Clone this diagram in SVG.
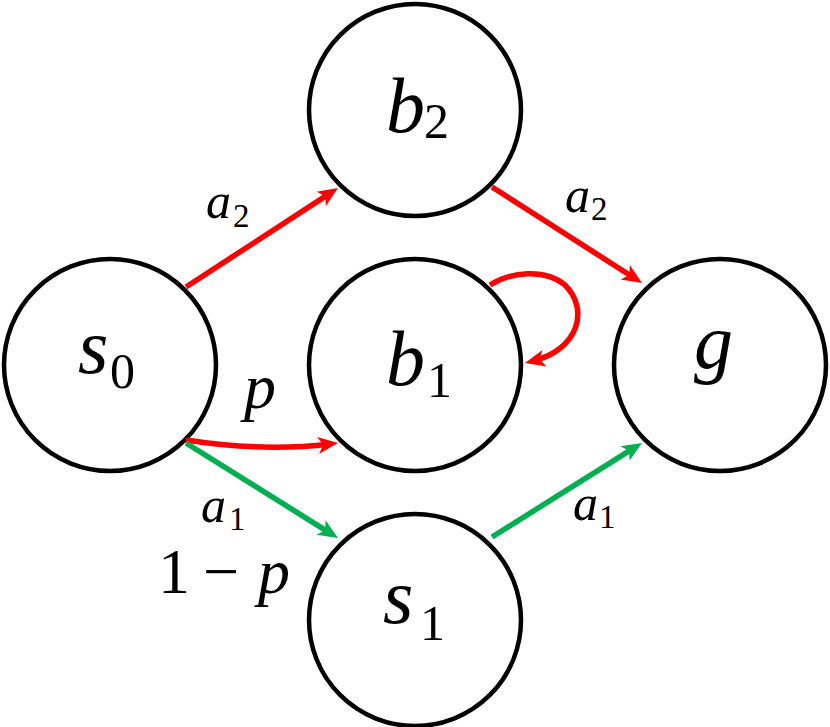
<svg xmlns="http://www.w3.org/2000/svg" width="830" height="727" viewBox="0 0 830 727">
<style>
.node{fill:#fff;stroke:#000;stroke-width:4.5}
.e{fill:none;stroke-width:5.5}
.red{stroke:#ff0000}
.green{stroke:#00b050}
.m{font-style:italic;fill:#000}
.d{font-style:normal;fill:#000}
</style>
<defs>
<marker id="ar" markerUnits="userSpaceOnUse" viewBox="0 -10 22 20" markerWidth="22" markerHeight="20" refX="12" refY="0" orient="auto" overflow="visible">
<path d="M0,-8.5 L20,0 L0,8.5 L5,0 Z" fill="#ff0000"/>
</marker>
<marker id="ag" markerUnits="userSpaceOnUse" viewBox="0 -10 22 20" markerWidth="22" markerHeight="20" refX="12" refY="0" orient="auto" overflow="visible">
<path d="M0,-8.5 L20,0 L0,8.5 L5,0 Z" fill="#00b050"/>
</marker>
</defs>
<g id="nodes" font-family="Liberation Serif, DejaVu Serif, Times New Roman, serif">
<g id="b2"><circle class="node" cx="415" cy="110" r="106"/><text><tspan class="m" x="386" y="132" font-size="78">b</tspan><tspan class="d" x="424" y="138" font-size="50">2</tspan></text></g>
<g id="s0"><circle class="node" cx="110" cy="365" r="106"/><text><tspan class="m" x="78" y="373" font-size="78">s</tspan><tspan class="d" x="110" y="388" font-size="50">0</tspan></text></g>
<g id="b1"><circle class="node" cx="415" cy="365" r="106"/><text><tspan class="m" x="386" y="385" font-size="78">b</tspan><tspan class="d" x="427" y="397" font-size="50">1</tspan></text></g>
<g id="g"><circle class="node" cx="720" cy="365" r="106"/><text><tspan class="m" x="694" y="368" font-size="78">g</tspan></text></g>
<g id="s1"><circle class="node" cx="415" cy="620" r="106"/><text><tspan class="m" x="383" y="623" font-size="78">s</tspan><tspan class="d" x="420" y="640" font-size="50">1</tspan></text></g>
</g>
<g id="connectors">
<path class="e red" d="M186,287 L331.3,192.4" marker-end="url(#ar)"/>
<path class="e red" d="M492,187 L635.3,278.7" marker-end="url(#ar)"/>
<path class="e red" d="M186,440 Q262,452 330.1,443.9" marker-end="url(#ar)"/>
<path class="e red" d="M490,285 C510,272 545,268 565,285 C590,310 578,350 532.8,361" marker-end="url(#ar)"/>
<path class="e green" d="M186,443 L331.2,533.8" marker-end="url(#ag)"/>
<path class="e green" d="M492,537 L635.2,447.2" marker-end="url(#ag)"/>
</g>
<g id="labels" font-family="Liberation Serif, DejaVu Serif, Times New Roman, serif">
<text><tspan class="m" x="206" y="218" font-size="50">a</tspan><tspan class="d" x="233" y="227" font-size="33">2</tspan></text>
<text><tspan class="m" x="565" y="212" font-size="50">a</tspan><tspan class="d" x="591" y="220" font-size="33">2</tspan></text>
<text class="m" x="244" y="408" font-size="64">p</text>
<text><tspan class="m" x="201" y="522" font-size="50">a</tspan><tspan class="d" x="229" y="530" font-size="33">1</tspan></text>
<text><tspan class="d" x="158" y="593" font-size="64">1</tspan><tspan class="d" x="203" y="593" font-size="64">−</tspan><tspan class="m" x="258" y="593" font-size="64">p</tspan></text>
<text><tspan class="m" x="573" y="520" font-size="50">a</tspan><tspan class="d" x="599" y="528" font-size="33">1</tspan></text>
</g>
</svg>
